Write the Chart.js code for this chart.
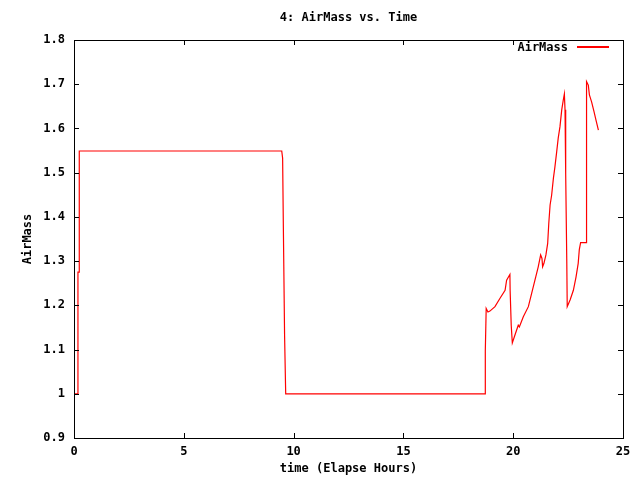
<!DOCTYPE html>
<html>
<head>
<meta charset="utf-8">
<script src="https://cdn.jsdelivr.net/npm/chart.js@4"></script>
<style>
html,body{margin:0;padding:0;background:#fff;}
canvas{display:block;}
</style>
</head>
<body>
<canvas id="c" width="640" height="480"></canvas>
<script>
const chartTitle = '4: AirMass vs. Time';
const seriesLabel = 'AirMass';
const xTitle = 'time (Elapse Hours)';
const yTitle = 'AirMass';
const xTickLabels = ['0','5','10','15','20','25'];
const yTickLabels = ['0.9','1','1.1','1.2','1.3','1.4','1.5','1.6','1.7','1.8'];

const hours = [0, 0.18, 0.18, 0.24, 0.24, 9.46, 9.50, 9.53, 9.59, 9.64,
  18.73, 18.73, 18.77, 18.85, 18.94, 19.17, 19.40, 19.63, 19.70, 19.85,
  19.86, 19.91, 19.96, 20.08, 20.23, 20.28, 20.46, 20.69, 20.84, 20.99,
  21.14, 21.25, 21.31, 21.34, 21.40, 21.49, 21.57, 21.62, 21.68, 21.75,
  21.83, 21.90, 21.98, 22.05, 22.13, 22.21, 22.28, 22.33, 22.36, 22.39,
  22.44, 22.46, 22.59, 22.74, 22.86, 22.96, 23.01, 23.07, 23.32, 23.32,
  23.36, 23.42, 23.47, 23.57, 23.68, 23.77, 23.88];
const airmass = [1.0, 1.0, 1.275, 1.275, 1.549, 1.549, 1.533, 1.393, 1.13, 1.0,
  1.0, 1.096, 1.193, 1.185, 1.187, 1.197, 1.216, 1.234, 1.257, 1.27,
  1.234, 1.155, 1.115, 1.133, 1.155, 1.151, 1.174, 1.197, 1.227, 1.257,
  1.287, 1.314, 1.306, 1.287, 1.295, 1.314, 1.340, 1.385, 1.427, 1.449,
  1.487, 1.513, 1.547, 1.578, 1.604, 1.642, 1.664, 1.678, 1.642, 1.498,
  1.299, 1.197, 1.212, 1.234, 1.264, 1.295, 1.326, 1.342, 1.342, 1.525,
  1.706, 1.698, 1.676, 1.660, 1.638, 1.619, 1.596];

const FONT = {family: "'DejaVu Sans Mono', monospace", size: 12, weight: 'bold'};
const fontStr = "bold 12px 'DejaVu Sans Mono', monospace";
const lineColor = '#ff0000';

const framePlugin = {
  id: 'gnuframe',
  afterDraw(chart) {
    const {ctx, chartArea: a, scales} = chart;
    ctx.save();
    ctx.strokeStyle = '#000';
    ctx.lineWidth = 1;
    ctx.strokeRect(Math.round(a.left) + 0.5, Math.round(a.top) + 0.5,
                   Math.round(a.right - a.left), Math.round(a.bottom - a.top));
    const tl = 5;
    ctx.beginPath();
    scales.x.ticks.forEach(t => {
      const px = Math.round(scales.x.getPixelForValue(t.value)) + 0.5;
      ctx.moveTo(px, a.bottom); ctx.lineTo(px, a.bottom - tl);
      ctx.moveTo(px, a.top); ctx.lineTo(px, a.top + tl);
    });
    scales.y.ticks.forEach(t => {
      const py = Math.round(scales.y.getPixelForValue(t.value)) + 0.5;
      ctx.moveTo(a.left, py); ctx.lineTo(a.left + tl, py);
      ctx.moveTo(a.right, py); ctx.lineTo(a.right - tl, py);
    });
    ctx.stroke();
    // title
    ctx.fillStyle = '#000';
    ctx.font = fontStr;
    ctx.textAlign = 'center';
    ctx.textBaseline = 'middle';
    ctx.fillText(chartTitle, (a.left + a.right) / 2, 18);
    // legend (gnuplot style: text then line sample)
    ctx.textAlign = 'right';
    ctx.fillText(chart.data.datasets[0].label, a.right - 55, a.top + 8);
    ctx.fillStyle = lineColor;
    ctx.fillRect(Math.round(a.right - 46), Math.round(a.top + 6), 32, 2);
    ctx.restore();
  }
};

new Chart(document.getElementById('c'), {
  type: 'line',
  data: {
    datasets: [{
      label: seriesLabel,
      data: hours.map((h, i) => ({x: h, y: airmass[i]})),
      borderColor: lineColor,
      borderWidth: 1.2,
      pointRadius: 0,
      tension: 0,
      fill: false
    }]
  },
  options: {
    responsive: false,
    animation: false,
    devicePixelRatio: 1,
    layout: {padding: {top: 40, right: 17, left: 0, bottom: 0}},
    plugins: {legend: {display: false}, title: {display: false}, tooltip: {enabled: false}},
    scales: {
      x: {
        type: 'linear', min: 0, max: 25,
        ticks: {stepSize: 5, padding: 7, color: '#000', font: FONT, maxRotation: 0, autoSkip: false,
                callback: (v, i) => xTickLabels[i]},
        grid: {display: false, drawTicks: false},
        border: {display: false},
        title: {display: true, text: xTitle, color: '#000', font: FONT, padding: {top: 0, bottom: 4}},
        afterFit(s) { s.height = 42; }
      },
      y: {
        type: 'linear', min: 0.9, max: 1.8,
        ticks: {stepSize: 0.1, padding: 9, color: '#000', font: FONT, autoSkip: false,
                callback: (v, i) => yTickLabels[i]},
        grid: {display: false, drawTicks: false},
        border: {display: false},
        title: {display: true, text: yTitle, color: '#000', font: FONT, padding: {top: 21, bottom: 0}},
        afterFit(s) { s.width = 74; }
      }
    }
  },
  plugins: [framePlugin]
});
</script>
</body>
</html>
